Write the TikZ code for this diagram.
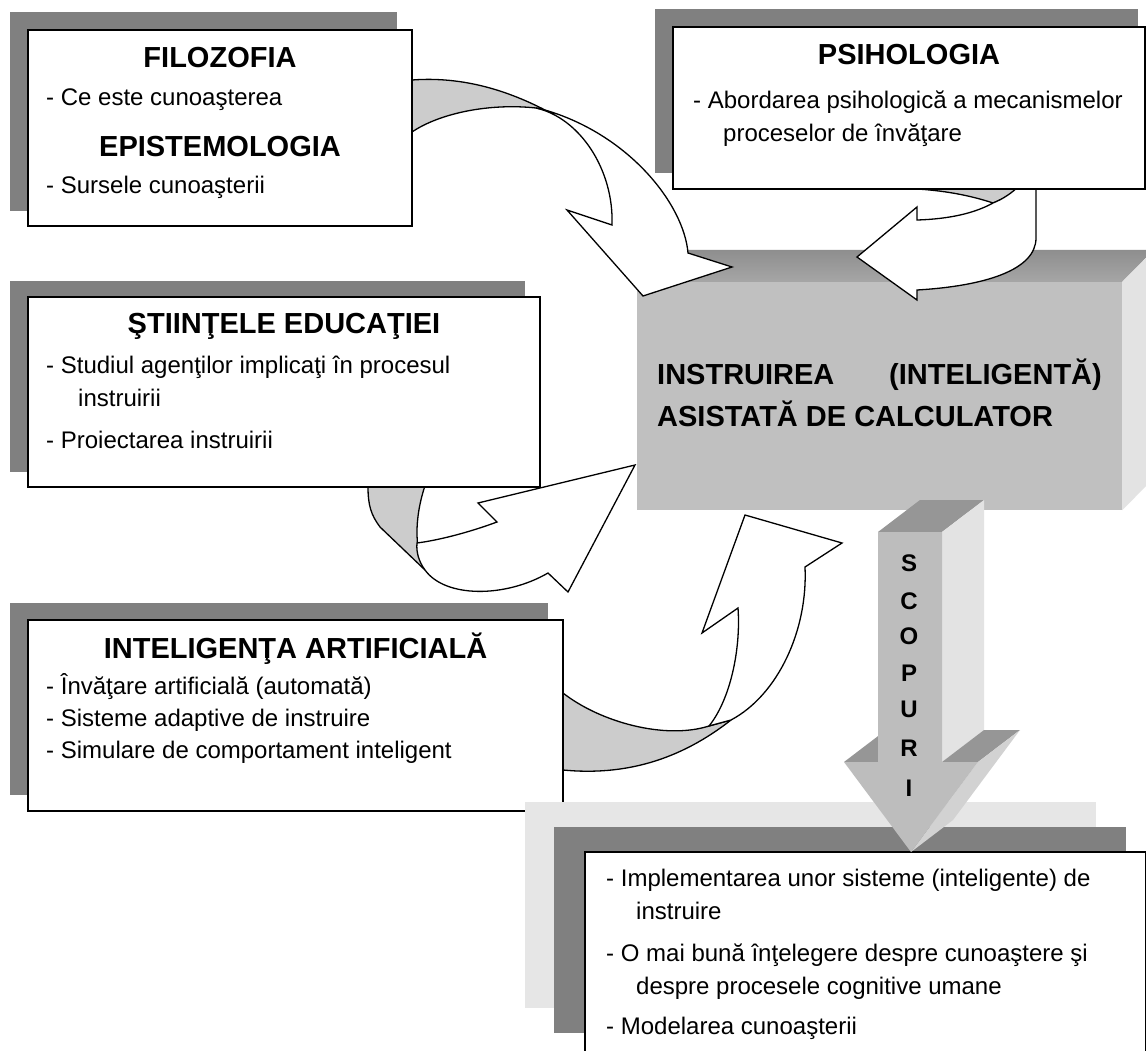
\documentclass[tikz,border=0pt]{standalone}
\usepackage{fontspec}
\setmainfont{Liberation Sans}
\newcommand\bodyfnt{\fontsize{24}{28}\selectfont}
\newcommand\titlefnt{\fontsize{29}{34}\selectfont\bfseries}
\newcommand\scopfnt{\fontsize{24}{28}\selectfont\bfseries}
\definecolor{shadowgray}{HTML}{808080}
\definecolor{flapgray}{HTML}{CCCCCC}
\definecolor{cubefront}{HTML}{C0C0C0}
\definecolor{cubetopA}{HTML}{8E8E8E}
\definecolor{cubetopB}{HTML}{A6A6A6}
\definecolor{cuberight}{HTML}{E3E3E3}
\definecolor{lightrect}{HTML}{E6E6E6}
\definecolor{arrowfront}{HTML}{BDBDBD}
\definecolor{arrowtop}{HTML}{969696}
\definecolor{arrowright}{HTML}{E3E3E3}
\definecolor{headright}{HTML}{D2D2D2}
\tikzset{
 shd/.style={fill=shadowgray, draw=none},
 wbox/.style={fill=white, draw=black, line width=1.6pt, inner sep=0pt},
 flap/.style={fill=flapgray, draw=black, line width=1.3pt, line join=round},
 band/.style={fill=white, draw=black, line width=1.3pt, line join=miter, miter limit=10},
 ttl/.style={font=\titlefnt, anchor=base, inner sep=0pt},
 itm/.style={font=\bodyfnt, anchor=base west, inner sep=0pt},
 big/.style={font=\titlefnt, inner sep=0pt},
 scop/.style={font=\scopfnt, anchor=base, inner sep=0pt},
}
\begin{document}
\begin{tikzpicture}[x=1pt,y=-1pt]
\useasboundingbox (0,0) rectangle (1146,1051);
\clip (0,0) rectangle (1146,1051);
\fill[white] (0,0) rectangle (1146,1051);

% shadows
\fill[shd] (10,12) rectangle (397,211);
\fill[shd] (655,9) rectangle (1138,173);
\fill[shd] (10,281) rectangle (525,472);
\fill[shd] (10,603) rectangle (548,795);

% central 3D box
\node[fill=cubefront, minimum width=485pt, minimum height=228pt, inner sep=0pt] (cube) at (879.5,396) {};
\shade[top color=cubetopA, bottom color=cubetopB] (cube.north west) -- ++(32,-32) -- ++(485,0) -- (cube.north east) -- cycle;
\fill[cuberight] (cube.north east) -- ++(32,-32) -- ++(0,228) -- (cube.south east) -- cycle;
\node[big, anchor=base west] (cubeA) at (657,384) {INSTRUIREA};
\node[big, anchor=base east] (cubeB) at (1102,384) {(INTELIGENTĂ)};
\node[big, anchor=base west] (cubeC) at (657,426) {ASISTATĂ DE CALCULATOR};

% curved arrow A (Filozofia)
\draw[flap] (405,80) -- (412,80) .. controls (465,76) and (510,92) .. (545,110) -- (536,108) .. controls (490,103) and (440,113) .. (412,132) -- (405,132) -- cycle;
\draw[band] (536,108) .. controls (580,118) and (614,170) .. (612,225) -- (567,210) -- (643,296) -- (732,267) -- (688,253) .. controls (684,205) and (630,135) .. (545,110) -- cycle;

% curved arrow B (Psihologia)
\draw[flap] (910,185) -- (917,189) .. controls (950,191) and (975,197) .. (993,203) .. controls (1003,199) and (1013,194) .. (1020,185) -- cycle;
\draw[band] (993,203) .. controls (975,213) and (950,219) .. (917,220) -- (917,207) -- (857,257) -- (917,300) -- (917,290) .. controls (985,286) and (1036,270) .. (1036,238) -- (1036,185) -- (1020,185) .. controls (1012,193) and (1003,199) .. (993,203) -- cycle;

% curved arrow C (Stiintele educatiei)
\draw[flap] (368,480) -- (368,487) .. controls (368,505) and (371,515) .. (380,527) -- (425,570) .. controls (414,550) and (414,515) .. (427,480) -- cycle;
\draw[band] (417,543) .. controls (440,540) and (470,532) .. (497,522) -- (478,503) -- (635,465) -- (568,592) -- (548,573) .. controls (505,598) and (445,598) .. (425,570) .. controls (419,562) and (416,552) .. (417,543) -- cycle;

% curved arrow D (Inteligenta artificiala)
\draw[flap] (556,693) -- (563,693) .. controls (600,722) and (665,740) .. (709,726) -- (731,720) .. controls (680,760) and (625,776) .. (563,770) -- (556,770) -- cycle;
\draw[band] (709,726) .. controls (730,700) and (741,650) .. (738,608) -- (702,633) -- (745,515) -- (842,543) -- (805,567) .. controls (808,630) and (778,695) .. (731,720) -- cycle;

% white boxes
\node[wbox, minimum width=384pt, minimum height=196pt] (fil) at (220,128) {};
\node[ttl] (filT) at (220,68) {FILOZOFIA};
\node[itm] (fil1) at (46,106) {- Ce este cunoaşterea};
\node[ttl] (epiT) at (220,157) {EPISTEMOLOGIA};
\node[itm] (epi1) at (46,194) {- Sursele cunoaşterii};

\node[wbox, minimum width=472pt, minimum height=162pt] (psi) at (909,108) {};
\node[ttl] (psiT) at (909,65) {PSIHOLOGIA};
\node[itm] (psi1) at (693,109) {- Abordarea psihologică a mecanismelor};
\node[itm] (psi2) at (723,142) {proceselor de învăţare};

\node[wbox, minimum width=512pt, minimum height=190pt] (sti) at (284,392) {};
\node[ttl] (stiT) at (284,333) {ŞTIINŢELE EDUCAŢIEI};
\node[itm] (sti1) at (46,373) {- Studiul agenţilor implicaţi în procesul};
\node[itm] (sti2) at (78,406) {instruirii};
\node[itm] (sti3) at (46,448) {- Proiectarea instruirii};

\node[wbox, minimum width=535pt, minimum height=191pt] (ia) at (295.5,715.5) {};
\node[ttl] (iaT) at (295.5,658) {INTELIGENŢA ARTIFICIALĂ};
\node[itm] (ia1) at (46,694) {- Învăţare artificială (automată)};
\node[itm] (ia2) at (46,726) {- Sisteme adaptive de instruire};
\node[itm] (ia3) at (46,758) {- Simulare de comportament inteligent};

% goals box
\fill[lightrect] (525,802) rectangle (1096,1008);
\fill[shd] (554,827) rectangle (1126,1033);
\node[wbox, minimum width=561pt, minimum height=220pt] (goal) at (865.5,962) {};
\node[itm] (g1) at (606,886) {- Implementarea unor sisteme (inteligente) de};
\node[itm] (g2) at (636,919) {instruire};
\node[itm] (g3) at (606,961) {- O mai bună înţelegere despre cunoaştere şi};
\node[itm] (g4) at (636,994) {despre procesele cognitive umane};
\node[itm] (g5) at (606,1034) {- Modelarea cunoaşterii};

% SCOPURI 3D arrow
\fill[arrowtop] (878,532) -- (920,500) -- (984,500) -- (942,532) -- cycle;
\fill[arrowright] (942,532) -- (984,500) -- (984,730) -- (942,762) -- cycle;
\fill[arrowtop] (942,762) -- (984,730) -- (1020,730) -- (978,762) -- cycle;
\fill[headright] (978,762) -- (1020,730) -- (953,820) -- (911,852) -- cycle;
\fill[arrowtop] (844,762) -- (886,730) -- (920,730) -- (878,762) -- cycle;
\fill[arrowfront] (878,532) -- (942,532) -- (942,762) -- (978,762) -- (911,852) -- (844,762) -- (878,762) -- cycle;
\foreach \l/\yy [count=\i] in {S/571,C/609,O/644,P/681,U/717,R/756,I/796}
  \node[scop] (sc\i) at (909,\yy) {\l};
\end{tikzpicture}
\end{document}
